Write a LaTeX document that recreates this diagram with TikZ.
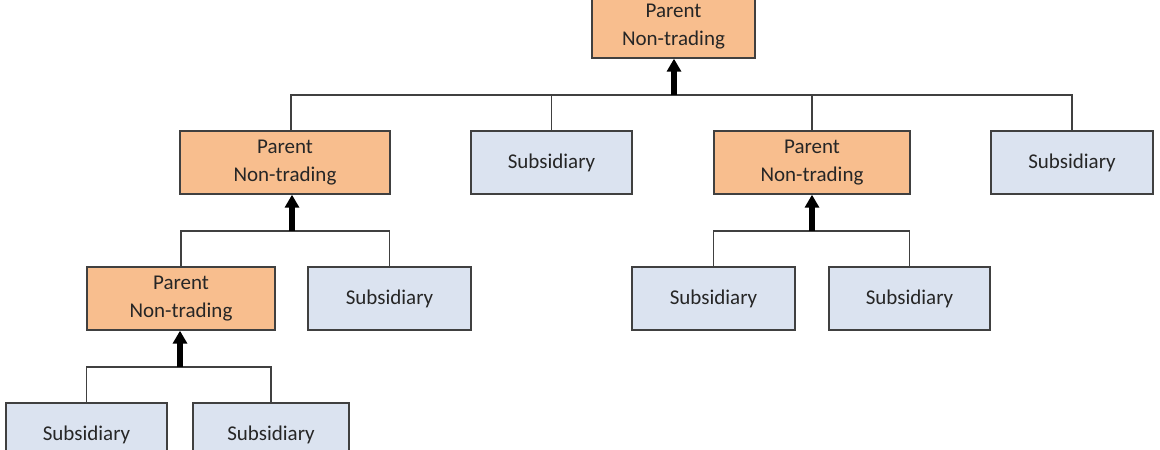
\documentclass[tikz,border=0pt]{standalone}
\usepackage{fontspec}
\setmainfont{Carlito}
\usetikzlibrary{arrows.meta}
\definecolor{orangefill}{RGB}{248,190,142}
\definecolor{bluefill}{RGB}{219,227,240}
\definecolor{edgecol}{RGB}{64,64,64}
\tikzset{
  box/.style={draw=edgecol, line width=1.4pt, inner sep=0pt, align=center,
    minimum height=63pt, font=\fontsize{21}{28.5}\selectfont, text=black!85},
  parentbox/.style={box, fill=orangefill},
  subbox/.style={box, fill=bluefill},
  conn/.style={draw=edgecol, line width=1.3pt},
  uparrow/.style={draw=black, line width=6pt, -{Triangle[width=14pt,length=13pt]}}
}
\begin{document}
\begin{tikzpicture}[x=1pt,y=-1pt]
\useasboundingbox (0,0) rectangle (1160,450);
\clip (0,0) rectangle (1160,450);
\fill[white] (0,0) rectangle (1160,450);
% level 1
\node[parentbox, minimum width=163pt] (top) at (673.5,26.5) {Parent\\Non-trading};
% level 2
\node[parentbox, minimum width=210pt] (p2L) at (285,162.5) {Parent\\Non-trading};
\node[subbox, minimum width=161pt] (s2a) at (551.5,162.5) {Subsidiary};
\node[parentbox, minimum width=196pt] (p2R) at (812,162.5) {Parent\\Non-trading};
\node[subbox, minimum width=162pt] (s2b) at (1072,162.5) {Subsidiary};
% level 3
\node[parentbox, minimum width=188pt] (p3) at (181,298.5) {Parent\\Non-trading};
\node[subbox, minimum width=163pt] (s3a) at (389.5,298.5) {Subsidiary};
\node[subbox, minimum width=163pt] (s3b) at (713.5,298.5) {Subsidiary};
\node[subbox, minimum width=161pt] (s3c) at (909.5,298.5) {Subsidiary};
% level 4
\node[subbox, minimum width=161pt] (s4a) at (86.5,434.5) {Subsidiary};
\node[subbox, minimum width=156pt] (s4b) at (271,434.5) {Subsidiary};
% bus coordinates
\coordinate (bus1) at (674,95);
\coordinate (bus1L) at (291,95);
\coordinate (bus2) at (292,231);
\coordinate (bus3) at (812,231);
\coordinate (bus4) at (180,367);
% top bus
\draw[conn] (bus1L |- p2L.north) -- (bus1L) -| (s2b.north);
\draw[conn] (s2a.north) -- (s2a.north |- bus1);
\draw[conn] (p2R.north) -- (p2R.north |- bus1);
\draw[uparrow] (bus1) -- (bus1 |- top.south);
% left level 3 bus
\draw[conn] (p3.north) |- (bus2) -| (s3a.north);
\draw[uparrow] (bus2) -- (bus2 |- p2L.south);
% right level 3 bus
\draw[conn] (s3b.north) |- (bus3) -| (s3c.north);
\draw[uparrow] (bus3) -- (bus3 |- p2R.south);
% level 4 bus
\draw[conn] (s4a.north) |- (bus4) -| (s4b.north);
\draw[uparrow] (bus4) -- (bus4 |- p3.south);
\end{tikzpicture}
\end{document}
